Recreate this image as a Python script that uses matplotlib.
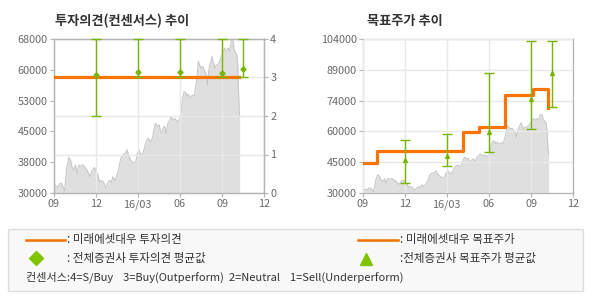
import numpy as np
import pandas as pd
import matplotlib
matplotlib.use('Agg')
import matplotlib.pyplot as plt
from matplotlib.patches import Rectangle

plt.rcParams['font.family'] = ['Noto Sans CJK KR', 'DejaVu Sans']

# stock price (won)
price_dates = ['2015-09-02', '2015-09-10', '2015-09-13', '2015-09-17', '2015-09-21', '2015-09-24',
               '2015-09-26', '2015-09-29', '2015-10-03', '2015-10-07', '2015-10-10', '2015-10-14',
               '2015-10-18', '2015-10-21', '2015-10-25', '2015-10-28', '2015-11-02', '2015-11-07',
               '2015-11-12', '2015-11-18', '2015-11-23', '2015-11-28', '2015-12-02', '2015-12-06',
               '2015-12-09', '2015-12-13', '2015-12-18', '2015-12-22', '2015-12-26', '2015-12-31',
               '2016-01-04', '2016-01-07', '2016-01-12', '2016-01-16', '2016-01-20', '2016-01-24',
               '2016-01-28', '2016-01-31', '2016-02-04', '2016-02-07', '2016-02-10', '2016-02-15',
               '2016-02-20', '2016-02-26', '2016-02-29', '2016-03-04', '2016-03-09', '2016-03-13',
               '2016-03-17', '2016-03-21', '2016-03-25', '2016-03-29', '2016-04-02', '2016-04-06',
               '2016-04-09', '2016-04-13', '2016-04-17', '2016-04-20', '2016-04-23', '2016-04-25',
               '2016-04-29', '2016-05-02', '2016-05-06', '2016-05-10', '2016-05-13', '2016-05-17',
               '2016-05-21', '2016-05-24', '2016-05-29', '2016-06-03', '2016-06-06', '2016-06-10',
               '2016-06-14', '2016-06-16', '2016-06-19', '2016-06-24', '2016-06-28', '2016-07-02',
               '2016-07-05', '2016-07-08', '2016-07-11', '2016-07-14', '2016-07-18', '2016-07-21',
               '2016-07-25', '2016-07-29', '2016-07-31', '2016-08-03', '2016-08-06', '2016-08-10',
               '2016-08-12', '2016-08-16', '2016-08-19', '2016-08-23', '2016-08-27', '2016-08-30',
               '2016-09-03', '2016-09-06', '2016-09-10', '2016-09-14', '2016-09-17', '2016-09-21',
               '2016-09-25', '2016-09-27', '2016-09-30', '2016-10-03', '2016-10-05', '2016-10-06',
               '2016-10-08', '2016-10-09']
price = [31900, 31500, 32300, 32500, 31500, 30500,
         33100, 36400, 38800, 38100, 36400, 35600,
         36900, 34800, 36900, 36600, 37000, 36400,
         35600, 34000, 35600, 36300, 35200, 34400,
         32700, 33100, 32700, 31200, 32300, 33100,
         32700, 34000, 33100, 34400, 36000, 38500,
         39300, 39700, 39900, 40700, 39300, 38100,
         37300, 37700, 39700, 40600, 39300, 39900,
         41800, 43100, 43500, 42600, 43500, 46000,
         47200, 46400, 46800, 45100, 44700, 46000,
         46400, 44700, 47200, 48000, 48800, 48000,
         48400, 48000, 47600, 49200, 53000, 55000,
         54800, 53800, 54400, 53400, 54200, 53800,
         56100, 58600, 62500, 61600, 60800, 61200,
         60000, 59200, 56700, 60400, 62000, 63700,
         62500, 60800, 61600, 61600, 62700, 63700,
         64500, 65800, 65000, 65800, 65000, 67800,
         67400, 65300, 64700, 64100, 61200, 57100,
         50500, 48800]

# Mirae Asset Daewoo opinion / target price
opinion_dates = ['2015-09-01', '2016-10-08']
opinion = [3, 3]
target_dates = ['2015-09-01', '2015-10-01', '2016-04-06', '2016-05-10', '2016-07-06', '2016-09-05', '2016-10-08']
target = [44500, 50000, 59500, 61500, 77000, 80000, 71000]

# consensus of all brokers
cons_dates = ['2015-12-01', '2016-03-01', '2016-06-01', '2016-09-01', '2016-10-17']
op_avg = [3.06, 3.14, 3.14, 3.11, 3.21]
op_min = [2, 3, 3, 3, 3]
op_max = [4, 4, 4, 4, 4]
tp_avg = [45800, 47900, 59400, 75200, 87900]
tp_min = [35000, 42900, 49800, 60600, 71500]
tp_max = [55700, 58200, 87600, 102900, 102900]

xtick_dates = ['2015-09-01', '2015-12-01', '2016-03-01', '2016-06-01', '2016-09-01', '2016-12-01']
xtick_labels = ['09', '12', '16/03', '06', '09', '12']

pd_price = pd.to_datetime(price_dates)
xt = pd.to_datetime(xtick_dates)
cd = pd.to_datetime(cons_dates)

ORANGE = '#fb7300'
GREEN = '#76b500'
GRID = '#e9e9e9'
SPINE = '#b4b4b4'
TXT = '#6a6a6a'

fig = plt.figure(figsize=(5.9, 3.0), dpi=100)


def base(ax, ylo, yhi):
    ax.fill_between(pd_price, ylo, price, color='#dfdfdf', lw=0, zorder=1)
    ax.plot(pd_price, price, color='#c4c4c4', lw=0.7, zorder=1.5)
    ax.set_xlim(xt[0], xt[-1])
    ax.set_ylim(ylo, yhi)
    ax.set_xticks(xt)
    ax.set_xticklabels(xtick_labels)
    yt = np.linspace(ylo, yhi, 6)
    ax.set_yticks(yt)
    ax.set_yticklabels([f'{round(v / 1000) * 1000:.0f}' for v in yt])
    ax.tick_params(colors=SPINE, labelcolor=TXT, labelsize=7.8, length=3, width=0.8, pad=1.5)
    for s in ax.spines.values():
        s.set_color(SPINE)
        s.set_linewidth(0.9)
    ax.set_axisbelow(False)
    ax.grid(axis='x', color=GRID, lw=1, zorder=2)


# left: investment opinion
ax1 = fig.add_axes([54 / 590, 1 - 193 / 300, 210 / 590, 154 / 300])
base(ax1, 30000, 68000)
ax1r = ax1.twinx()
ax1r.set_ylim(0, 4)
ax1r.set_yticks([0, 1, 2, 3, 4])
ax1r.tick_params(colors=SPINE, labelcolor=TXT, labelsize=7.8, length=3, width=0.8, pad=1.5)
for s in ax1r.spines.values():
    s.set_color(SPINE)
    s.set_linewidth(0.9)
ax1r.grid(axis='y', color=GRID, lw=1)
ax1r.step(pd.to_datetime(opinion_dates), opinion, where='post', color=ORANGE, lw=2.3, zorder=3)
ax1r.errorbar(cd, op_avg, yerr=[np.subtract(op_avg, op_min), np.subtract(op_max, op_avg)],
              fmt='D', ms=2.6, color=GREEN, ecolor=GREEN, elinewidth=1, capsize=3.5, capthick=1,
              zorder=4, clip_on=False)

# right: target price
ax2 = fig.add_axes([363 / 590, 1 - 193 / 300, 210 / 590, 154 / 300])
base(ax2, 30000, 104000)
ax2.grid(axis='y', color=GRID, lw=1, zorder=2)
ax2.step(pd.to_datetime(target_dates), target, where='post', color=ORANGE, lw=2.3, zorder=3)
ax2.errorbar(cd, tp_avg, yerr=[np.subtract(tp_avg, tp_min), np.subtract(tp_max, tp_avg)],
             fmt='^', ms=2.8, color=GREEN, ecolor=GREEN, elinewidth=1, capsize=3.5, capthick=1,
             zorder=4, clip_on=False)

fig.text(55 / 590, 1 - 21 / 300, '투자의견(컨센서스) 추이', fontsize=9.5, fontweight='bold',
         color='#333333', va='center')
fig.text(367 / 590, 1 - 21 / 300, '목표주가 추이', fontsize=9.5, fontweight='bold',
         color='#333333', va='center')

# legend panel
lg = fig.add_axes([0, 0, 1, 1], zorder=-1)
lg.set_xlim(0, 590)
lg.set_ylim(300, 0)
lg.axis('off')
lg.add_patch(Rectangle((8, 228.5), 575, 62, facecolor='#f8f8f8', edgecolor='#dcdcdc', lw=1))
lg.plot([26, 65], [240, 240], color='#f07000', lw=1.8)
lg.plot([358, 398], [240, 240], color='#f07000', lw=1.8)
lg.plot([36], [258], marker='D', ms=7.5, color='#80c400', ls='none')
lg.plot([366], [259], marker='^', ms=8, color='#80c400', ls='none')
kw = dict(fontsize=8.3, color='#333333', va='center')
lg.text(67, 240, ': 미래에셋대우 투자의견', **kw)
lg.text(67, 258, ': 전체증권사 투자의견 평균값', **kw)
lg.text(400, 240, ': 미래에셋대우 목표주가', **kw)
lg.text(400, 258, ':전체증권사 목표주가 평균값', **kw)
lg.text(26, 277, '컨센서스:4=S/Buy    3=Buy(Outperform)  2=Neutral    1=Sell(Underperform)',
        fontsize=8, color='#333333', va='center')

fig.savefig('out.png', dpi=100)
